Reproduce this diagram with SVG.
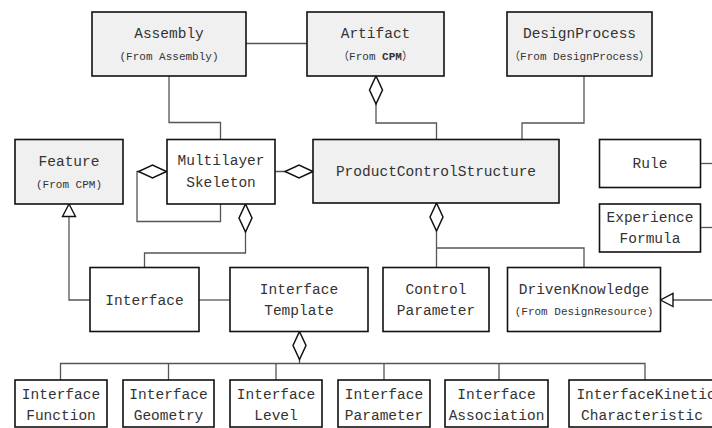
<svg xmlns="http://www.w3.org/2000/svg" width="712" height="428" viewBox="0 0 712 428">
  <style>
    .box { stroke: #111; stroke-width: 1.6; }
    .ext { fill: #f0f0f0; }
    .own { fill: #ffffff; }
    .t { font-family: "Liberation Mono", "Noto Sans CJK SC", monospace; font-size: 14.5px; fill: #333; text-anchor: middle; }
    .s { font-family: "Liberation Mono", "Noto Sans CJK SC", monospace; font-size: 11px; fill: #333; text-anchor: middle; }
    .c { fill: none; stroke: #555; stroke-width: 1.3; }
    .agg { marker-start: url(#diamond); }
    .gen { marker-end: url(#triangle); }
  </style>
  <defs>
    <!-- aggregation diamond, placed at the whole end of a connector -->
    <marker id="diamond" viewBox="0 0 28 14" markerWidth="28" markerHeight="14" refX="0" refY="7" orient="auto" markerUnits="userSpaceOnUse" overflow="visible">
      <path d="M0,7 L14,0.5 L28,7 L14,13.5 Z" fill="#fff" stroke="#111" stroke-width="1.5"/>
    </marker>
    <!-- generalization triangle, tip on the parent class -->
    <marker id="triangle" viewBox="0 0 13 13" markerWidth="13" markerHeight="13" refX="12.5" refY="6.5" orient="auto" markerUnits="userSpaceOnUse" overflow="visible">
      <path d="M0,0 L12.5,6.5 L0,13 Z" fill="#fff" stroke="#111" stroke-width="1.4"/>
    </marker>
  </defs>

  <g id="connectors">
    <path class="c" d="M246,43.5 H307"/>
    <path class="c" d="M169,76 V122.5 H220.5 V139"/>
    <path class="c agg" d="M376,76 V123 H436.5 V139"/>
    <path class="c" d="M584,76 V123 H522 V139"/>
    <path class="c agg" d="M313,171.5 H275"/>
    <path class="c agg" d="M166.5,171.5 H137 V221.5 H220.5 V204"/>
    <path class="c agg" d="M245.5,204 V253 H144.5 V267.5"/>
    <path class="c gen" d="M90,300 H69 V204"/>
    <path class="c" d="M199,300 H230"/>
    <path class="c agg" d="M436.5,203 V267.5"/>
    <path class="c" d="M436.5,248 H584 V267.5"/>
    <path class="c agg" d="M299.5,331.5 V363.5"/>
    <path class="c" d="M60.5,380 V363.5 H645 V380 M168.5,363.5 V380 M276,363.5 V380 M384,363.5 V380 M499,363.5 V380"/>
    <path class="c" d="M700.5,163.5 H712"/>
    <path class="c" d="M700.5,227.5 H712"/>
    <path class="c gen" d="M712,300 H660.5"/>
  </g>

  <g id="assembly">
    <rect class="box ext" x="92" y="12" width="154" height="64"/>
    <text class="t" x="169" y="38">Assembly</text>
    <text class="s" x="169" y="60">(From Assembly)</text>
  </g>
  <g id="artifact">
    <rect class="box ext" x="307" y="12" width="137" height="64"/>
    <text class="t" x="375.5" y="38">Artifact</text>
    <text class="s" x="375.5" y="60">（From <tspan font-weight="bold">CPM</tspan>）</text>
  </g>
  <g id="design-process">
    <rect class="box ext" x="507" y="12" width="145" height="64"/>
    <text class="t" x="579.5" y="38">DesignProcess</text>
    <text class="s" x="579.5" y="60">（From DesignProcess）</text>
  </g>
  <g id="feature">
    <rect class="box ext" x="15" y="139.5" width="108" height="64.5"/>
    <text class="t" x="69" y="166">Feature</text>
    <text class="s" x="69" y="187.5">(From CPM)</text>
  </g>
  <g id="multilayer-skeleton">
    <rect class="box own" x="167" y="139.5" width="108" height="64.5"/>
    <text class="t" x="221" y="165">Multilayer</text>
    <text class="t" x="221" y="187">Skeleton</text>
  </g>
  <g id="product-control-structure">
    <rect class="box ext" x="313" y="139.5" width="246" height="63.5"/>
    <text class="t" x="436" y="176">ProductControlStructure</text>
  </g>
  <g id="rule">
    <rect class="box own" x="599.5" y="139.5" width="101" height="48"/>
    <text class="t" x="650" y="168">Rule</text>
  </g>
  <g id="experience-formula">
    <rect class="box own" x="599.5" y="204" width="101" height="48"/>
    <text class="t" x="650" y="221.5">Experience</text>
    <text class="t" x="650" y="242.5">Formula</text>
  </g>
  <g id="interface">
    <rect class="box own" x="90" y="267.5" width="109" height="64"/>
    <text class="t" x="144.5" y="304.5">Interface</text>
  </g>
  <g id="interface-template">
    <rect class="box own" x="230" y="267.5" width="138" height="64"/>
    <text class="t" x="299" y="294">Interface</text>
    <text class="t" x="299" y="315">Template</text>
  </g>
  <g id="control-parameter">
    <rect class="box own" x="383" y="267.5" width="106" height="64"/>
    <text class="t" x="436" y="293.5">Control</text>
    <text class="t" x="436" y="315">Parameter</text>
  </g>
  <g id="driven-knowledge">
    <rect class="box own" x="507.5" y="267.5" width="153" height="64"/>
    <text class="t" x="584" y="293.5">DrivenKnowledge</text>
    <text class="s" x="584" y="315">(From DesignResource)</text>
  </g>
  <g id="interface-function">
    <rect class="box own" x="15" y="380" width="92" height="47"/>
    <text class="t" x="61" y="398.5">Interface</text>
    <text class="t" x="61" y="419.5">Function</text>
  </g>
  <g id="interface-geometry">
    <rect class="box own" x="123" y="380" width="91" height="47"/>
    <text class="t" x="168.5" y="398.5">Interface</text>
    <text class="t" x="168.5" y="419.5">Geometry</text>
  </g>
  <g id="interface-level">
    <rect class="box own" x="230" y="380" width="92" height="47"/>
    <text class="t" x="276" y="398.5">Interface</text>
    <text class="t" x="276" y="419.5">Level</text>
  </g>
  <g id="interface-parameter">
    <rect class="box own" x="338" y="380" width="92" height="47"/>
    <text class="t" x="384" y="398.5">Interface</text>
    <text class="t" x="384" y="419.5">Parameter</text>
  </g>
  <g id="interface-association">
    <rect class="box own" x="445" y="380" width="103" height="47"/>
    <text class="t" x="496.5" y="398.5">Interface</text>
    <text class="t" x="496.5" y="419.5">Association</text>
  </g>
  <g id="interface-kinetic-characteristic">
    <rect class="box own" x="569" y="380" width="147" height="47"/>
    <text class="t" x="646" y="398.5">InterfaceKinetic</text>
    <text class="t" x="642" y="419.5">Characteristic</text>
  </g>
</svg>
